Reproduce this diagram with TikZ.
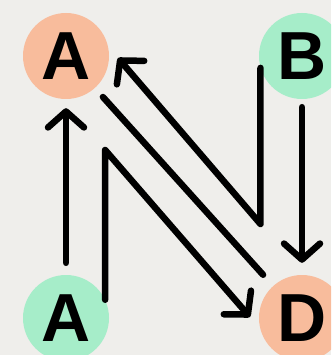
\documentclass[tikz,border=0pt]{standalone}
\usepackage{fontspec}
\setmainfont{Liberation Sans}
\usetikzlibrary{arrows.meta}
\definecolor{bg}{HTML}{EFEEEB}
\definecolor{peach}{HTML}{F8BC9C}
\definecolor{mint}{HTML}{A6EDC9}
\begin{document}
\begin{tikzpicture}[x=1pt,y=-1pt,
  vert/.style={circle, minimum size=86pt, inner sep=0pt, font=\fontsize{68}{68}\selectfont\bfseries},
  edge/.style={line width=6.5pt, line cap=round, line join=round},
  arr/.style={edge, -{Straight Barb[length=16pt,width=36pt,round]}}]
\useasboundingbox (0,0) rectangle (331,355);
\clip (0,0) rectangle (331,355);
\fill[bg] (0,0) rectangle (331,355);
\node[vert, fill=peach] (a1) at (66,56) {A};
\node[vert, fill=mint] (b) at (302,56) {B};
\node[vert, fill=mint] (a2) at (66,318) {A};
\node[vert, fill=peach] (d) at (302,318) {D};
\coordinate (atip) at (118,58);
\coordinate (dtip) at (250,317);
\draw[arr, shorten <=12pt, shorten >=9pt] (a2) -- (a1);
\draw[arr, shorten <=8pt, shorten >=12pt] (b) -- (d);
\draw[edge, shorten <=12pt, shorten >=15pt] (a1.-48) -- (d.132);
\draw[arr] (a2.25) -- (a2.25 |- 0,150) -- (dtip);
\draw[arr] (b.-164) -- (b.-164 |- 0,224) -- (atip);
\end{tikzpicture}
\end{document}
